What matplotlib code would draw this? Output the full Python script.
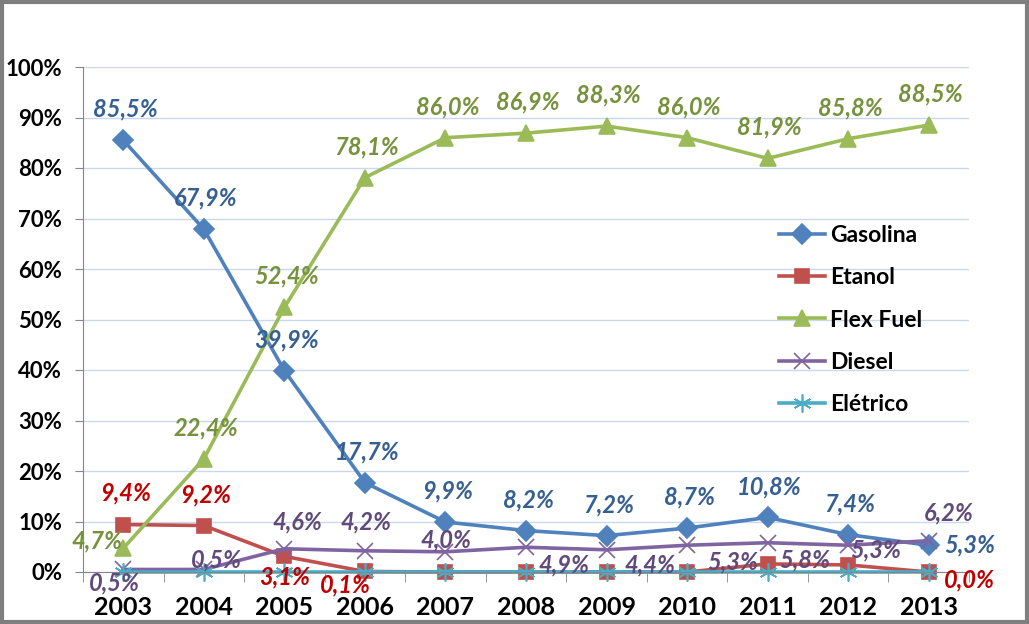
import numpy as np
import matplotlib
matplotlib.use("Agg")
import matplotlib.pyplot as plt
from matplotlib.patches import Rectangle
from matplotlib.ticker import PercentFormatter, MultipleLocator

plt.rcParams['font.family'] = ['Lato', 'DejaVu Sans']

years = [2003, 2004, 2005, 2006, 2007, 2008, 2009, 2010, 2011, 2012, 2013]
gasolina = [85.5, 67.9, 39.9, 17.7, 9.9, 8.2, 7.2, 8.7, 10.8, 7.4, 5.3]
etanol = [9.4, 9.2, 3.1, 0.1, 0.0, 0.0, 0.0, 0.0, 1.6, 1.4, 0.0]
flex = [4.7, 22.4, 52.4, 78.1, 86.0, 86.9, 88.3, 86.0, 81.9, 85.8, 88.5]
diesel = [0.5, 0.5, 4.6, 4.2, 4.0, 4.9, 4.4, 5.3, 5.8, 5.3, 6.2]
eletrico = [0, 0, 0, 0, 0, 0, 0, 0, 0, 0, 0]

# which points get a data label
etanol_show = [1, 1, 1, 1, 0, 0, 0, 0, 0, 0, 1]

# label offsets in pixels (dx, dy), layout only
up = (2, 31)
gas_off = [up] * 10 + [(41, 0)]
flex_off = [(-26, 7)] + [up] * 10
eta_off = [(2, 32), (2, 31), (0, -21), (-19, -13), up, up, up, up, up, up, (41, -8)]
die_off = [(-9, -13), (13, 10), (13, 27), (1, 29), (1, 12), (38, -18), (43, -15),
           (46, -17), (37, -17), (28, -5), (20, 28)]

fig = plt.figure(figsize=(10.29, 6.24), dpi=100)
ax = fig.add_axes([83 / 1029, 1 - 572 / 624, 886 / 1029, 505 / 624])
x = np.arange(len(years))

series = [
    ("Gasolina", gasolina, "#4F81BD", "D", 10),
    ("Etanol", etanol, "#C0504D", "s", 10),
    ("Flex Fuel", flex, "#9BBB59", "^", 11),
    ("Diesel", diesel, "#8064A2", "x", 11),
    ("Elétrico", eletrico, "#4BACC6", (6, 2, 0), 13),
]
for name, vals, col, mk, ms in series:
    ax.plot(x, vals, color=col, lw=2.6, marker=mk, ms=ms, mew=1.2,
            mec=col, mfc=col, label=name, clip_on=False)

def fmt(v):
    return f"{v:.1f}%".replace(".", ",")

lab_kw = dict(textcoords="offset pixels", ha="center", va="center",
              fontsize=17, fontweight="bold", fontstyle="italic", annotation_clip=False)
for i, v in enumerate(gasolina):
    ax.annotate(fmt(v), (x[i], v), xytext=gas_off[i], color="#376092", **lab_kw)
for i, v in enumerate(flex):
    ax.annotate(fmt(v), (x[i], v), xytext=flex_off[i], color="#76923C", **lab_kw)
for i, v in enumerate(etanol):
    if etanol_show[i]:
        ax.annotate(fmt(v), (x[i], v), xytext=eta_off[i], color="#C00000", **lab_kw)
for i, v in enumerate(diesel):
    ax.annotate(fmt(v), (x[i], v), xytext=die_off[i], color="#604A7B", **lab_kw)

ax.set_xlim(-0.5, len(years) - 0.5)
ax.set_ylim(0, 100)
ax.yaxis.set_major_locator(MultipleLocator(10))
ax.yaxis.set_major_formatter(PercentFormatter(decimals=0))
ax.set_xticks(x)
ax.set_xticklabels([str(y) for y in years])
ax.set_xticks(np.arange(-0.5, len(years), 1), minor=True)
ax.tick_params(axis="x", which="major", length=0, pad=17, labelsize=18)
ax.tick_params(axis="x", which="minor", length=7, color="#868686", direction="out")
ax.tick_params(axis="y", length=6, color="#868686", pad=9, labelsize=16)
for t in ax.get_xticklabels() + ax.get_yticklabels():
    t.set_fontweight("bold")

ax.grid(axis="y", color="#C9D8EE", lw=1)
ax.set_axisbelow(True)
for s in ("top", "right"):
    ax.spines[s].set_visible(False)
for s in ("left", "bottom"):
    ax.spines[s].set_color("#868686")

leg = ax.legend(loc="center left", bbox_to_anchor=(0.786, 0.499), frameon=False,
                fontsize=16.5, labelspacing=0.93, handlelength=2.0, handletextpad=0.2,
                borderpad=0, borderaxespad=0)
for t in leg.get_texts():
    t.set_fontweight("bold")

fig.patches.append(Rectangle((0.0015, 0.0025), 0.997, 0.995, transform=fig.transFigure,
                             fill=False, edgecolor="#7F7F7F", lw=3))

fig.savefig("out.png", dpi=100)
